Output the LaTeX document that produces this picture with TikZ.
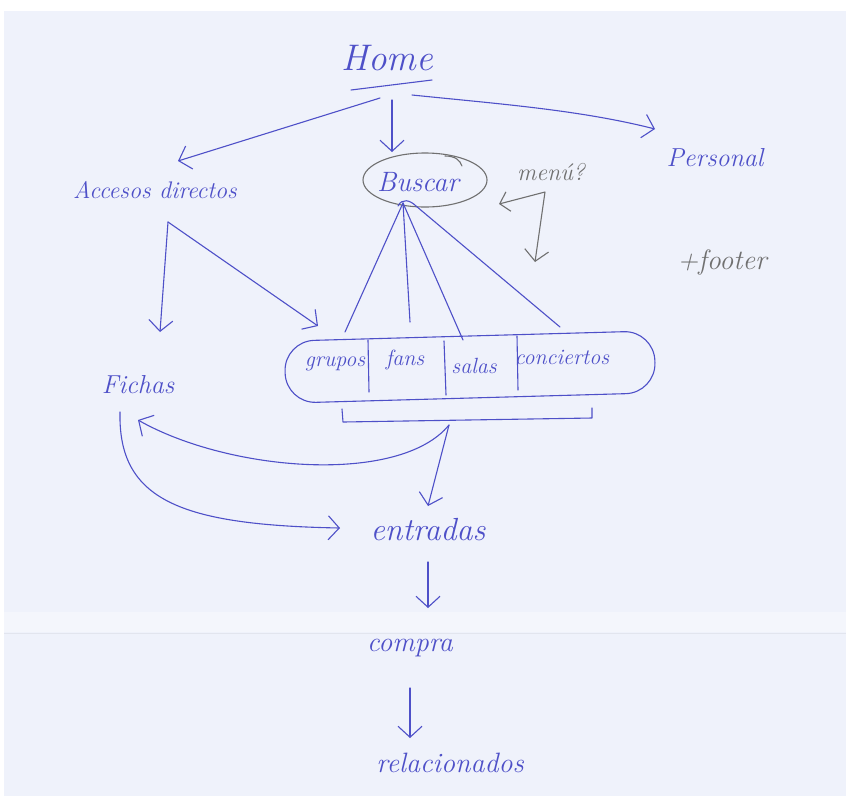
\documentclass[tikz,border=0pt]{standalone}
\usetikzlibrary{arrows.meta}
\definecolor{paper}{RGB}{239,242,251}
\definecolor{inkblue}{RGB}{78,80,200}
\definecolor{inkgray}{RGB}{112,112,112}
\newcommand{\hand}[1]{\itshape\fontsize{#1}{#1}\selectfont}
\begin{document}
\begin{tikzpicture}[x=1pt,y=-1pt,
  ink/.style={draw=inkblue, line width=1.1pt, line cap=round, line join=round},
  pencil/.style={draw=inkgray, line width=1.1pt, line cap=round, line join=round},
  arr/.style={-{Straight Barb[length=11pt,width=24pt,line width=1.1pt]}},
  biarr/.style={{Straight Barb[length=9pt,width=20pt,line width=1.1pt]}-{Straight Barb[length=11pt,width=24pt,line width=1.1pt]}},
  lbl/.style={text=inkblue, inner sep=1pt},
  glbl/.style={text=inkgray, inner sep=1pt},
]
\useasboundingbox (0,0) rectangle (850,796);
% sheet of paper with its fold
\fill[white] (0,0) rectangle (850,796);
\fill[paper] (4,11) rectangle (846,796);
\fill[white, opacity=0.35] (4,612) rectangle (846,632);
\draw[black, opacity=0.05, line width=1pt] (4,633) -- (846,633);

% pages
\node[lbl, font=\hand{37}] (home) at (387,58) {Home};
\node[lbl, font=\hand{24}] (acc) at (155,190) {Accesos directos};
\node[lbl, font=\hand{28}] (buscar) at (418,182) {Buscar};
\node[lbl, font=\hand{26}] (pers) at (715,158) {Personal};
\node[glbl, font=\hand{24}] (menu) at (551,172) {menú?};
\node[glbl, font=\hand{28}] (footer) at (722,262) {+footer};
\node[lbl, font=\hand{26}] (fichas) at (138,385) {Fichas};
\node[lbl, font=\hand{32}] (entradas) at (428,530) {entradas};
\node[lbl, font=\hand{28}] (compra) at (410,648) {compra};
\node[lbl, font=\hand{28}] (rel) at (450,763) {relacionados};

% search results group
\node[ink, draw, rounded corners=30pt, minimum width=370pt, minimum height=62pt,
      rotate=1.6] (pill) at (470,367) {};
\node[lbl, font=\hand{22}] (grupos) at (335,364) {grupos};
\node[lbl, font=\hand{22}] (fans) at (405,360) {fans};
\node[lbl, font=\hand{22}] (salas) at (474,366) {salas};
\node[lbl, font=\hand{22}] (conc) at (562,357) {conciertos};
\draw[ink] (368,340) -- (369,392);
\draw[ink] (444,341) -- (446,395);
\draw[ink] (517,336) -- (518,390);

% search bubble
\draw[pencil] (425,180) ellipse [x radius=62, y radius=27];
\draw[pencil] (445,156) .. controls (455,156) and (460,160) .. (462,166);

% free ends of connectors
\coordinate (homeL) at (380,98);
\coordinate (homeC) at (392,100);
\coordinate (homeR) at (412,95);
\coordinate (accTip) at (178,161);
\coordinate (busTip) at (392,152);
\coordinate (persTip) at (655,129);
\coordinate (bsA) at (403,203);
\coordinate (grTop) at (345,332);
\coordinate (faTop) at (410,322);
\coordinate (saTop) at (463,340);
\coordinate (coTop) at (560,327);
\coordinate (accFoot) at (168,222);
\coordinate (fichasTip) at (160,332);
\coordinate (pillTip) at (318,326);
\coordinate (brL) at (342,409);
\coordinate (brR) at (592,408);
\coordinate (brMid) at (449,425);
\coordinate (fichasBot) at (120,412);
\coordinate (fichasIn) at (138,420);
\coordinate (entIn) at (340,528);
\coordinate (entTop) at (428,506);
\coordinate (menuA) at (499,204);
\coordinate (menuB) at (535,262);

% Home underline and links
\draw[ink] ([shift={(-36,32)}]home.center) -- ([shift={(45,22)}]home.center);
\draw[ink, arr] (homeL) -- (accTip);
\draw[ink, arr] (homeC) -- (busTip);
\draw[ink, arr] (homeR) .. controls (500,104) and (580,110) .. (persTip);

% menu note
\draw[pencil, biarr] (menuA) -- (545,192) -- (menuB);

% search to result types
\draw[ink] (bsA) -- (grTop);
\draw[ink] (bsA) -- (faTop);
\draw[ink] (bsA) -- (saTop);
\draw[ink] (398,206) .. controls (402,198) and (410,200) .. (416,206) -- (coTop);

% quick access
\draw[ink, arr] (accFoot) -- (fichasTip);
\draw[ink, arr] (accFoot) -- (pillTip);

% bracket under the group
\draw[ink] (brL) -- (343,422) -- (592,418) -- (brR);
\draw[ink, arr] (brMid) -- (entTop);
\draw[ink, arr] (brMid) .. controls (400,485) and (230,472) .. (fichasIn);
\draw[ink, arr] (fichasBot) .. controls (118,500) and (180,525) .. (entIn);

% purchase flow
\draw[ink, arr] (428,562) -- (428,608);
\draw[ink, arr] (410,688) -- (410,738);
\end{tikzpicture}
\end{document}
